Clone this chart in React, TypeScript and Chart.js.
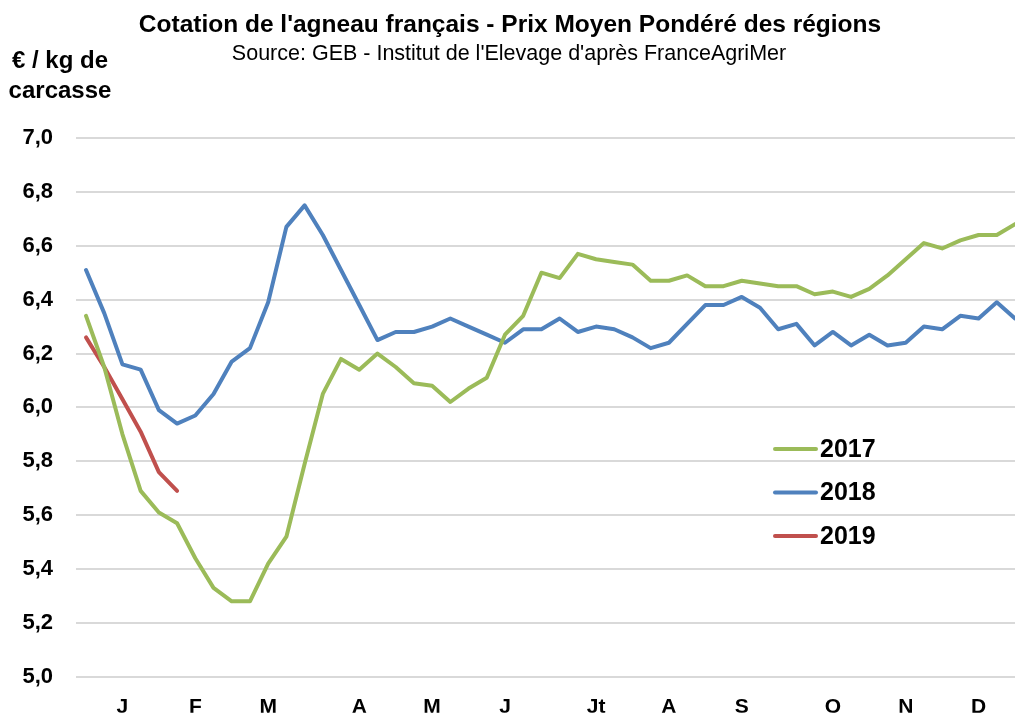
import React, { useEffect, useRef } from "react";
import { Chart, registerables } from "chart.js";

Chart.register(...registerables);

const TITLE = "Cotation de l'agneau français - Prix Moyen Pondéré des régions";
const SUBTITLE = "Source: GEB - Institut de l'Elevage d'après FranceAgriMer";
const UNIT_LINES = ["€ / kg de", "carcasse"];

// Month labels and the week index (0-based) under which each one sits
const monthLabels = ["J", "F", "M", "A", "M", "J", "Jt", "A", "S", "O", "N", "D"];
const monthWeekIndex = [2, 6, 10, 15, 19, 23, 28, 32, 36, 41, 45, 49];

const yearLabels = ["2017", "2018", "2019"];
const yearColors = ["#9BBB59", "#4F81BD", "#C0504D"];

// Weekly prices (€/kg carcass)
const prices2017 = [
  6.34, 6.15, 5.9, 5.69, 5.61, 5.57, 5.44, 5.33, 5.28, 5.28,
  5.42, 5.52, 5.79, 6.05, 6.18, 6.14, 6.2, 6.15, 6.09, 6.08,
  6.02, 6.07, 6.11, 6.27, 6.34, 6.5, 6.48, 6.57, 6.55, 6.54,
  6.53, 6.47, 6.47, 6.49, 6.45, 6.45, 6.47, 6.46, 6.45, 6.45,
  6.42, 6.43, 6.41, 6.44, 6.49, 6.55, 6.61, 6.59, 6.62, 6.64,
  6.64, 6.68,
];
const prices2018 = [
  6.51, 6.35, 6.16, 6.14, 5.99, 5.94, 5.97, 6.05, 6.17, 6.22,
  6.39, 6.67, 6.75, 6.64, 6.51, 6.38, 6.25, 6.28, 6.28, 6.3,
  6.33, 6.3, 6.27, 6.24, 6.29, 6.29, 6.33, 6.28, 6.3, 6.29,
  6.26, 6.22, 6.24, 6.31, 6.38, 6.38, 6.41, 6.37, 6.29, 6.31,
  6.23, 6.28, 6.23, 6.27, 6.23, 6.24, 6.3, 6.29, 6.34, 6.33,
  6.39, 6.33,
];
const prices2019 = [6.26, 6.15, 6.03, 5.91, 5.76, 5.69];

const Y_MIN = 5.0;
const Y_MAX = 7.0;
const Y_STEP = 0.2;

const FONT = "'Liberation Sans', Arial, sans-serif";

const textPlugin = {
  id: "chartTexts",
  afterDraw(chart: any) {
    const ctx = chart.ctx as CanvasRenderingContext2D;
    ctx.save();
    ctx.fillStyle = "#000";
    ctx.textAlign = "center";
    ctx.textBaseline = "alphabetic";
    ctx.font = `bold 24.5px ${FONT}`;
    ctx.fillText(TITLE, 510, 32);
    ctx.font = `21.5px ${FONT}`;
    ctx.fillText(SUBTITLE, 509, 60);
    ctx.font = `bold 24px ${FONT}`;
    ctx.fillText(UNIT_LINES[0], 60, 68);
    ctx.fillText(UNIT_LINES[1], 60, 98);

    // legend inside the plot
    chart.data.datasets.forEach((ds: any, i: number) => {
      const y = 449 + i * 43.5;
      ctx.strokeStyle = ds.borderColor;
      ctx.lineWidth = 4;
      ctx.lineCap = "round";
      ctx.beginPath();
      ctx.moveTo(775, y);
      ctx.lineTo(816, y);
      ctx.stroke();
      ctx.fillStyle = "#000";
      ctx.textAlign = "left";
      ctx.textBaseline = "middle";
      ctx.font = `bold 25px ${FONT}`;
      ctx.fillText(ds.label, 820, y + 1);
    });
    ctx.restore();
  },
};

export default function App() {
  const canvasRef = useRef<HTMLCanvasElement | null>(null);

  useEffect(() => {
    if (!canvasRef.current) return;
    const series = [prices2017, prices2018, prices2019];
    const chart = new Chart(canvasRef.current, {
      type: "line",
      data: {
        datasets: series.map((vals, k) => ({
          label: yearLabels[k],
          data: vals.map((v, i) => ({ x: i, y: v })),
          borderColor: yearColors[k],
          backgroundColor: yearColors[k],
          borderWidth: 4,
          pointRadius: 0,
          pointHoverRadius: 0,
          tension: 0,
          borderCapStyle: "round",
          borderJoinStyle: "round",
          fill: false,
        })),
      },
      options: {
        animation: false,
        responsive: false,
        devicePixelRatio: 1,
        layout: { padding: { top: 138, left: 0, right: 0, bottom: 0 } },
        plugins: {
          legend: { display: false },
          title: { display: false },
          tooltip: { enabled: false },
        },
        scales: {
          x: {
            type: "linear",
            min: -0.55,
            max: 51,
            grid: { display: false, drawTicks: false },
            border: { display: false },
            afterBuildTicks: (scale: any) => {
              scale.ticks = monthWeekIndex.map((v) => ({ value: v }));
            },
            afterFit: (scale: any) => {
              scale.height = 36;
            },
            ticks: {
              autoSkip: false,
              maxRotation: 0,
              minRotation: 0,
              padding: 18,
              color: "#000",
              font: { family: FONT, size: 21, weight: "bold" },
              callback: (value: any) => {
                const idx = monthWeekIndex.indexOf(Number(value));
                return idx >= 0 ? monthLabels[idx] : "";
              },
            },
          },
          y: {
            min: Y_MIN,
            max: Y_MAX,
            grid: { color: "#D9D9D9", lineWidth: 2, drawTicks: false },
            border: { display: false },
            afterFit: (scale: any) => {
              scale.width = 76;
            },
            ticks: {
              stepSize: Y_STEP,
              padding: 23,
              color: "#000",
              font: { family: FONT, size: 22, weight: "bold" },
              callback: (value: any) => Number(value).toFixed(1).replace(".", ","),
            },
          },
        },
      },
      plugins: [textPlugin],
    });
    return () => chart.destroy();
  }, []);

  return (
    <div
      style={{
        position: "fixed",
        left: 0,
        top: 0,
        width: 1015,
        height: 713,
        overflow: "hidden",
        background: "#fff",
      }}
    >
      <canvas ref={canvasRef} width={1015} height={713} style={{ display: "block" }} />
    </div>
  );
}
